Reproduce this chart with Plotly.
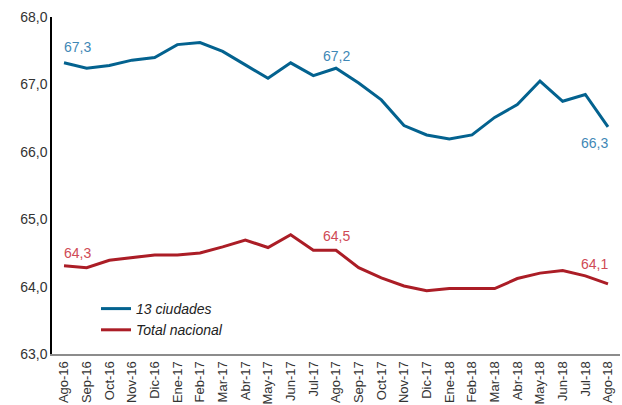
import plotly.graph_objects as go

months = ["Ago-16","Sep-16","Oct-16","Nov-16","Dic-16","Ene-17","Feb-17","Mar-17","Abr-17",
          "May-17","Jun-17","Jul-17","Ago-17","Sep-17","Oct-17","Nov-17","Dic-17","Ene-18",
          "Feb-18","Mar-18","Abr-18","May-18","Jun-18","Jul-18","Ago-18"]
ciudades13 = [67.32,67.24,67.28,67.36,67.40,67.59,67.62,67.49,67.29,67.09,67.32,67.13,67.24,
              67.02,66.77,66.39,66.25,66.19,66.25,66.51,66.70,67.05,66.75,66.85,66.37]
nacional = [64.31,64.28,64.39,64.43,64.47,64.47,64.50,64.59,64.69,64.58,64.77,64.54,64.54,
            64.28,64.13,64.01,63.94,63.97,63.97,63.97,64.12,64.20,64.24,64.16,64.04]

blue = "#03628f"
red = "#ab1d26"
blue_lbl = "#3f88b6"
red_lbl = "#cf4a55"

x = list(range(len(months)))
fig = go.Figure()
fig.add_trace(go.Scatter(x=x, y=ciudades13, mode="lines", name="13 ciudades",
                         line=dict(color=blue, width=3)))
fig.add_trace(go.Scatter(x=x, y=nacional, mode="lines", name="Total nacional",
                         line=dict(color=red, width=3)))

lbl_font = dict(family="Liberation Sans, Arial, sans-serif", size=14)
# (index, value, text, color, x offset px, y offset px upward)
anns = [
    (0, ciudades13[0], "67,3", blue_lbl, 13, 16),
    (12, ciudades13[12], "67,2", blue_lbl, 0, 12),
    (24, ciudades13[24], "66,3", blue_lbl, -13, -16),
    (0, nacional[0], "64,3", red_lbl, 13, 13),
    (12, nacional[12], "64,5", red_lbl, 0, 14),
    (24, nacional[24], "64,1", red_lbl, -13, 20),
]
for xi, yi, t, c, dx, dy in anns:
    fig.add_annotation(x=xi, y=yi, text=t, showarrow=False, xshift=dx, yshift=dy,
                       font=dict(color=c, **lbl_font))

fig.update_layout(
    width=622, height=405,
    margin=dict(l=52, r=2, t=17, b=51),
    plot_bgcolor="white", paper_bgcolor="white",
    separators=",.",
    showlegend=True,
    legend=dict(x=0.0775, y=0.181, xanchor="left", yanchor="top",
                bgcolor="rgba(0,0,0,0)", tracegroupgap=0,
                font=dict(family="Liberation Sans, Arial, sans-serif", size=14,
                          color="#222222", style="italic")),
    font=dict(family="Liberation Sans, Arial, sans-serif", color="#333333"),
)
fig.update_xaxes(
    range=[-0.53, 24.53], tickmode="array", tickvals=x, ticktext=months,
    tickangle=-90, automargin=False,
    tickfont=dict(family="Liberation Sans Narrow, Liberation Sans, Arial, sans-serif",
                  size=13, color="#333333"),
    showgrid=False, zeroline=False, showline=True, linecolor="#8c8c8c", linewidth=2,
    ticks="",
)
fig.update_yaxes(
    range=[63, 68], dtick=1, tick0=63, tickformat=".1f", automargin=False,
    tickfont=dict(size=14, color="#333333"),
    showgrid=False, zeroline=False, showline=True, linecolor="#000000", linewidth=1.5,
    ticks="",
)
fig.write_html("out.html", config={"displayModeBar": False},
               post_script="document.body.style.margin='0';document.body.style.overflow='hidden';")
